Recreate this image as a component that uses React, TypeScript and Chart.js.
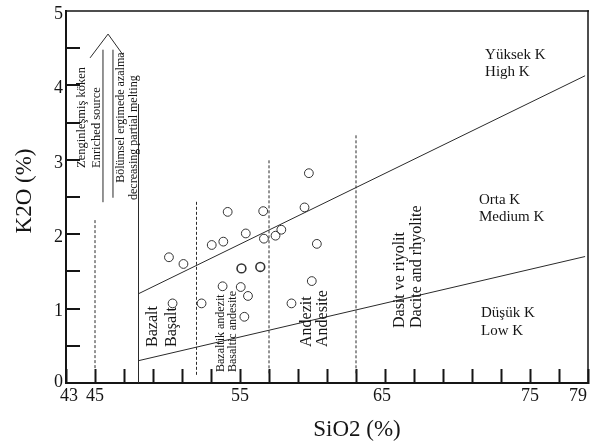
import React, { useEffect, useRef } from "react";
import { Chart, registerables } from "chart.js";

Chart.register(...registerables);

// ---- data ----
const sio2 = [50.1, 51.1, 53.05, 53.85, 54.15, 55.4, 56.6, 56.65, 57.45, 57.85, 59.45, 59.75, 60.3, 55.1, 56.4, 53.8, 55.05, 55.55, 55.3, 59.95, 58.55, 50.35, 52.35];
const k2o = [1.69, 1.6, 1.855, 1.9, 2.3, 2.01, 2.31, 1.94, 1.98, 2.06, 2.36, 2.82, 1.87, 1.54, 1.56, 1.3, 1.29, 1.17, 0.89, 1.37, 1.07, 1.07, 1.07];
const boldSamples = [13, 14];

const highMediumBoundary = [{ x: 48, y: 1.2 }, { x: 78.8, y: 4.13 }];
const mediumLowBoundary = [{ x: 48, y: 0.3 }, { x: 78.8, y: 1.7 }];
const basaltLimit = [{ x: 48, y: 0 }, { x: 48, y: 3.75 }];
const dashedDividers = [
  [{ x: 45, y: 0.2 }, { x: 45, y: 2.2 }],
  [{ x: 52, y: 0.11 }, { x: 52, y: 2.46 }],
  [{ x: 57, y: 0.13 }, { x: 57, y: 3.0 }],
  [{ x: 63, y: 0.13 }, { x: 63, y: 3.33 }],
];
const arrowShaftLeft = [{ x: 45.55, y: 2.43 }, { x: 45.55, y: 4.48 }];
const arrowShaftRight = [{ x: 46.24, y: 2.49 }, { x: 46.24, y: 4.48 }];
const arrowHead = [{ x: 44.66, y: 4.37 }, { x: 45.9, y: 4.69 }, { x: 46.93, y: 4.41 }];

const xTickValues = [43, 45, 47, 49, 51, 53, 55, 57, 59, 61, 63, 65, 67, 69, 71, 73, 75, 77, 79];
const xTickLabels = ["43", "45", "55", "65", "75", "79"];
const yTickValues = [0, 0.5, 1, 1.5, 2, 2.5, 3, 3.5, 4, 4.5, 5];
const yTickLabels = ["0", "1", "2", "3", "4", "5"];

const seriesLabels = [
  { text: "Yüksek K", x: 71.9, y: 4.41 },
  { text: "High K", x: 71.9, y: 4.18 },
  { text: "Orta K", x: 71.48, y: 2.46 },
  { text: "Medium K", x: 71.48, y: 2.23 },
  { text: "Düşük K", x: 71.62, y: 0.94 },
  { text: "Low K", x: 71.62, y: 0.7 },
];
const rotatedLabels = [
  { text: "Zenginleşmiş köken", x: 44.1, y: 2.89, size: 12.5 },
  { text: "Enriched source", x: 45.14, y: 2.89, size: 12.5 },
  { text: "Bölümsel ergimede azalma", x: 46.79, y: 2.69, size: 12 },
  { text: "decreasing partial melting", x: 47.69, y: 2.46, size: 12 },
  { text: "Bazalt", x: 49.0, y: 0.484, size: 16 },
  { text: "Başalt", x: 50.31, y: 0.484, size: 16 },
  { text: "Bazaltik andezit", x: 53.69, y: 0.148, size: 12 },
  { text: "Basaltic andesite", x: 54.52, y: 0.148, size: 12 },
  { text: "Andezit", x: 59.62, y: 0.484, size: 16 },
  { text: "Andesite", x: 60.72, y: 0.484, size: 16 },
  { text: "Dasit ve riyolit", x: 66.03, y: 0.739, size: 16 },
  { text: "Dacite and rhyolite", x: 67.21, y: 0.739, size: 16 },
];

const SERIF = "'Liberation Serif', 'DejaVu Serif', serif";
const INK = "#151515";
const xLabelNudge: Record<string, number> = { "43": 3, "79": -10, "65": -3 };

const decorPlugin = {
  id: "decor",
  afterDraw(chart: any) {
    const { ctx, chartArea, scales } = chart;
    const { left, right, top, bottom } = chartArea;
    const xs = scales.x;
    const ys = scales.y;
    ctx.save();
    ctx.setLineDash([]);
    ctx.globalAlpha = 1;
    ctx.fillStyle = INK;
    // frame top & right
    ctx.fillRect(left, top - 0.75, right - left + 1, 1.5);
    ctx.fillRect(right - 0.75, top - 0.75, 1.5, bottom - top + 1);
    // inward y ticks
    for (let i = 0; i < yTickValues.length; i++) {
      const v = yTickValues[i];
      if (v === 0 || v === 5) continue;
      const py = Math.round(ys.getPixelForValue(v));
      ctx.fillRect(left, py - 1, 14, 2);
    }

    // tick labels
    ctx.font = `18px ${SERIF}`;
    ctx.textBaseline = "middle";
    ctx.textAlign = "center";
    xTickLabels.forEach((l) => {
      const px = xs.getPixelForValue(Number(l)) + (xLabelNudge[l] || 0);
      ctx.fillText(l, px, bottom + 13);
    });
    ctx.textAlign = "right";
    yTickLabels.forEach((l) => {
      const v = Number(l);
      const py = ys.getPixelForValue(v) + (v === 0 ? -1 : 3);
      ctx.fillText(l, left - 3, py);
    });

    // axis titles
    ctx.font = `23px ${SERIF}`;
    ctx.textAlign = "center";
    ctx.fillText("SiO2 (%)", (left + right) / 2 + 30, bottom + 47);
    ctx.save();
    ctx.translate(left - 41, (top + bottom) / 2 - 6);
    ctx.rotate(-Math.PI / 2);
    ctx.fillText("K2O (%)", 0, 0);
    ctx.restore();

    // series region labels
    ctx.font = `15px ${SERIF}`;
    ctx.textAlign = "left";
    seriesLabels.forEach((a) => {
      ctx.fillText(a.text, xs.getPixelForValue(a.x), ys.getPixelForValue(a.y));
    });

    // rotated labels
    rotatedLabels.forEach((a) => {
      ctx.save();
      ctx.translate(xs.getPixelForValue(a.x), ys.getPixelForValue(a.y));
      ctx.rotate(-Math.PI / 2);
      ctx.font = `${a.size}px ${SERIF}`;
      ctx.textAlign = "left";
      ctx.textBaseline = "middle";
      ctx.fillText(a.text, 0, 0);
      ctx.restore();
    });
    ctx.restore();
  },
};

function lineSet(data: { x: number; y: number }[], dashed = false) {
  return {
    type: "scatter" as const,
    data,
    showLine: true,
    borderColor: "#2a2a2a",
    borderWidth: 1,
    borderDash: dashed ? [3, 2] : [],
    pointRadius: 0,
    fill: false,
  };
}

export default function App() {
  const canvasRef = useRef<HTMLCanvasElement | null>(null);

  useEffect(() => {
    document.body.style.margin = "0";
    const canvas = canvasRef.current;
    if (!canvas) return;
    const points = sio2.map((x, i) => ({ x, y: k2o[i] }));
    const chart = new Chart(canvas, {
      type: "scatter",
      data: {
        datasets: [
          lineSet(highMediumBoundary),
          lineSet(mediumLowBoundary),
          lineSet(basaltLimit),
          ...dashedDividers.map((d) => lineSet(d, true)),
          lineSet(arrowShaftLeft),
          lineSet(arrowShaftRight),
          lineSet(arrowHead),
          {
            type: "scatter",
            data: points,
            pointStyle: "circle",
            pointRadius: 4.4,
            pointBackgroundColor: "rgba(255,255,255,0)",
            pointBorderColor: "#333",
            pointBorderWidth: sio2.map((_, i) => (boldSamples.includes(i) ? 1.6 : 1)),
            showLine: false,
          },
        ] as any,
      },
      options: {
        animation: false,
        responsive: true,
        maintainAspectRatio: false,
        layout: { padding: { left: 0, right: 8, top: 11, bottom: 0 } },
        plugins: { legend: { display: false }, tooltip: { enabled: false } },
        scales: {
          x: {
            type: "linear",
            min: 43,
            max: 79,
            afterBuildTicks: (s: any) => {
              s.ticks = xTickValues.map((v) => ({ value: v }));
            },
            grid: { display: true, drawOnChartArea: false, drawTicks: true, tickLength: -14, tickWidth: 2, tickColor: INK, color: INK },
            border: { display: true, color: INK, width: 2 },
            ticks: { display: false },
            afterFit: (s: any) => {
              s.height = 60;
            },
          },
          y: {
            type: "linear",
            min: 0,
            max: 5,
            grid: { display: false, drawTicks: false },
            border: { display: true, color: INK, width: 2 },
            ticks: { display: false },
            afterFit: (s: any) => {
              s.width = 66;
            },
          },
        },
      } as any,
      plugins: [decorPlugin],
    });
    return () => chart.destroy();
  }, []);

  return (
    <div style={{ width: 596, height: 443, position: "relative", background: "#fff" }}>
      <canvas ref={canvasRef} />
    </div>
  );
}
